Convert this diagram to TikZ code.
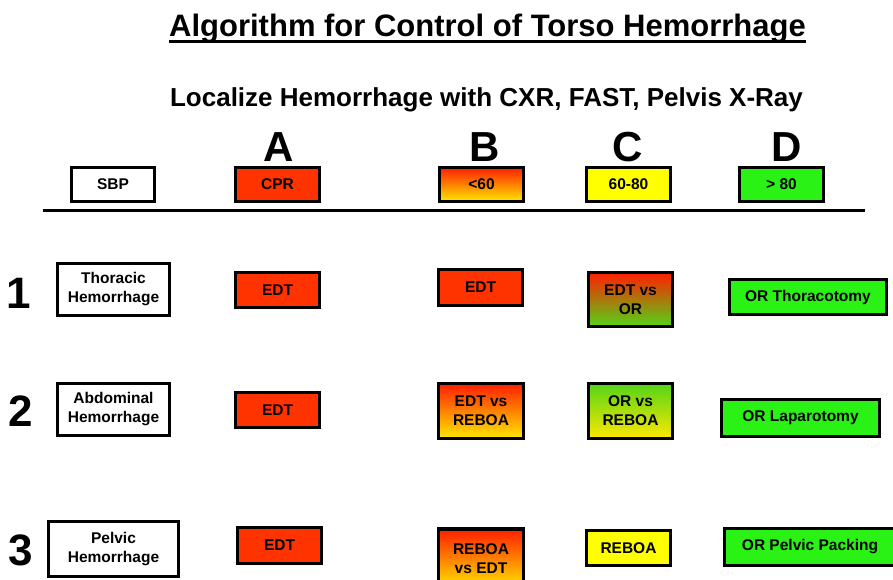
\documentclass[tikz,border=0pt]{standalone}
\usepackage{fontspec}
\setmainfont{Liberation Sans}
\definecolor{cred}{HTML}{FF3300}
\definecolor{cgreen}{HTML}{2AF214}
\definecolor{cyellow}{HTML}{FFFF00}
\definecolor{gred}{HTML}{FF1E00}
\definecolor{gyel}{HTML}{FFE800}
\definecolor{gorange}{HTML}{FF8A00}
\definecolor{ggreen}{HTML}{55D418}
\begin{document}
\begin{tikzpicture}[x=1pt,y=-1pt,
  box/.style={draw=black, line width=3.2pt, inner sep=0pt, align=center,
    font=\fontsize{15.5}{19}\selectfont\bfseries},
  redbox/.style={box, fill=cred},
  greenbox/.style={box, fill=cgreen},
  yellowbox/.style={box, fill=cyellow},
  whitebox/.style={box, fill=white},
  rybox/.style={box, top color=gred, bottom color=gyel},
  rogbox/.style={box, top color=gred, middle color=gorange, bottom color=ggreen},
  goybox/.style={box, top color=ggreen, middle color=gorange, bottom color=gyel},
  colhead/.style={font=\fontsize{42}{42}\selectfont\bfseries, inner sep=0pt},
  rowhead/.style={font=\fontsize{44}{44}\selectfont\bfseries, inner sep=0pt},
  wh/.style 2 args={minimum width=#1pt, minimum height=#2pt}
]
\useasboundingbox (0,0) rectangle (893,579);
\clip (0,0) rectangle (893,579);

% titles
\node[font=\fontsize{31}{31}\selectfont\bfseries, inner sep=0pt, anchor=base] (title) at (487.5,36) {Algorithm for Control of Torso Hemorrhage};
\draw[line width=2.5pt] ([yshift=-5.5pt]title.base west) -- ([yshift=-5.5pt]title.base east);
\node[font=\fontsize{26}{26}\selectfont\bfseries, inner sep=0pt, anchor=base] (sub) at (486.5,106) {Localize Hemorrhage with CXR, FAST, Pelvis X-Ray};

% column letters
\node[colhead] (A) at (278.5,147) {A};
\node[colhead] (B) at (485,147) {B};
\node[colhead] (C) at (628,147) {C};
\node[colhead] (D) at (787,147) {D};

% header boxes
\node[whitebox, wh={83}{34}] (sbp) at (113,184.5) {SBP};
\node[redbox, wh={84}{34}] (cpr) at (277.5,184.5) {CPR};
\node[rybox, wh={84}{34}] (lt60) at (481.5,184.5) {<60};
\node[yellowbox, wh={84}{34}] (r6080) at (628.5,184.5) {60-80};
\node[greenbox, wh={84}{34}] (gt80) at (781.5,184.5) {> 80};

% rule
\coordinate (rl) at (43,210);
\coordinate (rr) at (865,210);
\draw[line width=3pt] (rl) -- (rr);

% row numbers
\node[rowhead] (n1) at (19,293) {1};
\node[rowhead] (n2) at (21,411) {2};
\node[rowhead] (n3) at (21,550) {3};

% row 1
\node[whitebox, wh={112}{52}] (thor) at (113.5,289.5) {Thoracic\\Hemorrhage};
\node[redbox, wh={84}{35}] (a1) at (277.5,290) {EDT};
\node[redbox, wh={84}{36}] (b1) at (480.5,287.5) {EDT};
\node[rogbox, wh={84}{54}] (c1) at (630.5,299.5) {EDT vs\\OR};
\node[greenbox, wh={157}{35}] (d1) at (808,297) {OR Thoracotomy};

% row 2
\node[whitebox, wh={112}{52}] (abd) at (113.5,409.5) {Abdominal\\Hemorrhage};
\node[redbox, wh={84}{35}] (a2) at (277.5,410) {EDT};
\node[rybox, wh={85}{55}] (b2) at (481,411) {EDT vs\\REBOA};
\node[goybox, wh={84}{55}] (c2) at (630.5,411) {OR vs\\REBOA};
\node[greenbox, wh={158}{37}] (d2) at (800.5,418) {OR Laparotomy};

% row 3
\node[whitebox, wh={130}{55}] (pel) at (113.5,549) {Pelvic\\Hemorrhage};
\node[redbox, wh={84}{36}] (a3) at (279.5,545.5) {EDT};
\node[rybox, wh={85}{60}] (b3) at (481,559) {REBOA\\vs EDT};
\node[yellowbox, wh={84}{35}] (c3) at (628.5,548) {REBOA};
\node[greenbox, wh={171}{37}] (d3) at (810,547) {OR Pelvic Packing};
\end{tikzpicture}
\end{document}
